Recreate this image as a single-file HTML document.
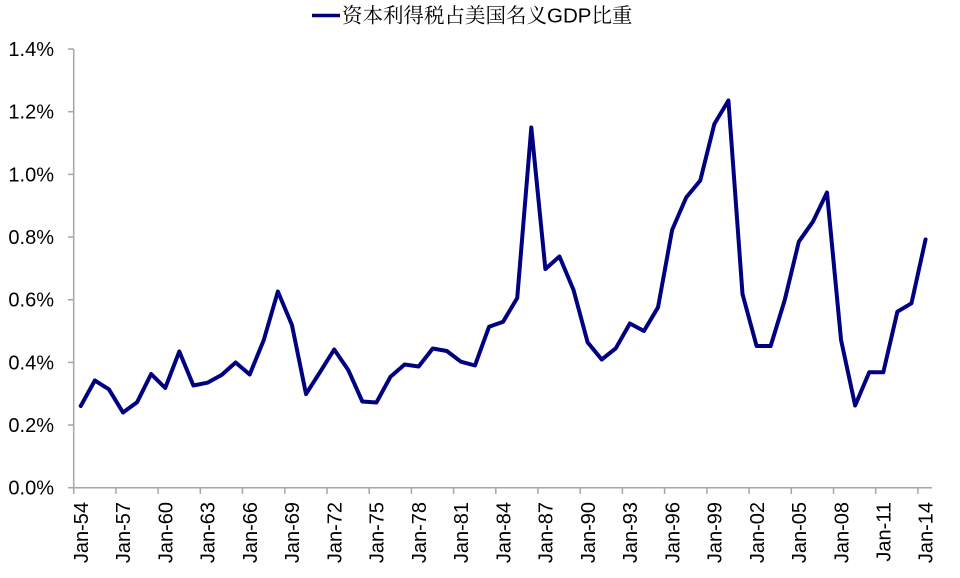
<!DOCTYPE html>
<html>
<head>
<meta charset="utf-8">
<style>
  html, body { margin:0; padding:0; background:#ffffff; }
  svg { display:block; }
  .yl { font-family:"Liberation Sans", Arial, sans-serif; font-size:20px; fill:#000; }
  .xl { font-family:"Liberation Sans", Arial, sans-serif; font-size:20px; fill:#000; }
  .lg { font-family:"Liberation Sans", "Noto Serif CJK SC", serif; font-size:20.5px; fill:#000; }
  .cj { font-family:"Noto Serif CJK SC", "Liberation Serif", serif; }
</style>
</head>
<body>
<svg width="960" height="578" viewBox="0 0 960 578" xmlns="http://www.w3.org/2000/svg">
  <rect width="960" height="578" fill="#ffffff"/>

  <!-- Legend -->
  <line x1="312" y1="15.5" x2="340" y2="15.5" stroke="#000080" stroke-width="3.5"/>
  <text class="lg" x="342" y="22.5"><tspan class="cj">资本利得税占美国名义</tspan>GDP<tspan class="cj">比重</tspan></text>

  <!-- Axes -->
  <g stroke="#a6a6a6" stroke-width="1.5" fill="none">
    <line x1="73.7" y1="49" x2="73.7" y2="488.5"/>
    <line x1="73" y1="487.7" x2="932" y2="487.7"/>
    <line x1="68" y1="487.7" x2="73.7" y2="487.7"/>
    <line x1="68" y1="425.0" x2="73.7" y2="425.0"/>
    <line x1="68" y1="362.4" x2="73.7" y2="362.4"/>
    <line x1="68" y1="299.7" x2="73.7" y2="299.7"/>
    <line x1="68" y1="237.0" x2="73.7" y2="237.0"/>
    <line x1="68" y1="174.4" x2="73.7" y2="174.4"/>
    <line x1="68" y1="111.7" x2="73.7" y2="111.7"/>
    <line x1="68" y1="49.0" x2="73.7" y2="49.0"/>
    <line x1="73.7" y1="487.7" x2="73.7" y2="494"/>
    <line x1="115.9" y1="487.7" x2="115.9" y2="494"/>
    <line x1="158.1" y1="487.7" x2="158.1" y2="494"/>
    <line x1="200.3" y1="487.7" x2="200.3" y2="494"/>
    <line x1="242.5" y1="487.7" x2="242.5" y2="494"/>
    <line x1="284.8" y1="487.7" x2="284.8" y2="494"/>
    <line x1="327.0" y1="487.7" x2="327.0" y2="494"/>
    <line x1="369.2" y1="487.7" x2="369.2" y2="494"/>
    <line x1="411.4" y1="487.7" x2="411.4" y2="494"/>
    <line x1="453.6" y1="487.7" x2="453.6" y2="494"/>
    <line x1="495.8" y1="487.7" x2="495.8" y2="494"/>
    <line x1="538.0" y1="487.7" x2="538.0" y2="494"/>
    <line x1="580.2" y1="487.7" x2="580.2" y2="494"/>
    <line x1="622.4" y1="487.7" x2="622.4" y2="494"/>
    <line x1="664.6" y1="487.7" x2="664.6" y2="494"/>
    <line x1="706.9" y1="487.7" x2="706.9" y2="494"/>
    <line x1="749.1" y1="487.7" x2="749.1" y2="494"/>
    <line x1="791.3" y1="487.7" x2="791.3" y2="494"/>
    <line x1="833.5" y1="487.7" x2="833.5" y2="494"/>
    <line x1="875.7" y1="487.7" x2="875.7" y2="494"/>
    <line x1="917.9" y1="487.7" x2="917.9" y2="494"/>
  </g>

  <!-- Y labels -->
  <g class="yl" text-anchor="end">
    <text x="54" y="494.7">0.0%</text>
    <text x="54" y="432.0">0.2%</text>
    <text x="54" y="369.4">0.4%</text>
    <text x="54" y="306.7">0.6%</text>
    <text x="54" y="244.0">0.8%</text>
    <text x="54" y="181.4">1.0%</text>
    <text x="54" y="118.7">1.2%</text>
    <text x="54" y="56.0">1.4%</text>
  </g>

  <!-- X labels -->
  <g class="xl" text-anchor="end">
    <text transform="translate(80.7,502) rotate(-90)" dy="0.36em">Jan-54</text>
    <text transform="translate(123.0,502) rotate(-90)" dy="0.36em">Jan-57</text>
    <text transform="translate(165.2,502) rotate(-90)" dy="0.36em">Jan-60</text>
    <text transform="translate(207.5,502) rotate(-90)" dy="0.36em">Jan-63</text>
    <text transform="translate(249.7,502) rotate(-90)" dy="0.36em">Jan-66</text>
    <text transform="translate(291.9,502) rotate(-90)" dy="0.36em">Jan-69</text>
    <text transform="translate(334.2,502) rotate(-90)" dy="0.36em">Jan-72</text>
    <text transform="translate(376.4,502) rotate(-90)" dy="0.36em">Jan-75</text>
    <text transform="translate(418.7,502) rotate(-90)" dy="0.36em">Jan-78</text>
    <text transform="translate(460.9,502) rotate(-90)" dy="0.36em">Jan-81</text>
    <text transform="translate(503.1,502) rotate(-90)" dy="0.36em">Jan-84</text>
    <text transform="translate(545.4,502) rotate(-90)" dy="0.36em">Jan-87</text>
    <text transform="translate(587.6,502) rotate(-90)" dy="0.36em">Jan-90</text>
    <text transform="translate(629.9,502) rotate(-90)" dy="0.36em">Jan-93</text>
    <text transform="translate(672.1,502) rotate(-90)" dy="0.36em">Jan-96</text>
    <text transform="translate(714.3,502) rotate(-90)" dy="0.36em">Jan-99</text>
    <text transform="translate(756.6,502) rotate(-90)" dy="0.36em">Jan-02</text>
    <text transform="translate(798.8,502) rotate(-90)" dy="0.36em">Jan-05</text>
    <text transform="translate(841.1,502) rotate(-90)" dy="0.36em">Jan-08</text>
    <text transform="translate(883.3,502) rotate(-90)" dy="0.36em">Jan-11</text>
    <text transform="translate(925.5,502) rotate(-90)" dy="0.36em">Jan-14</text>
  </g>

  <!-- Series -->
  <polyline fill="none" stroke="#000080" stroke-width="4" stroke-linejoin="round" stroke-linecap="round"
    points="80.74,406 94.82,380.5 108.90,389.3 122.98,412.5 137.06,402.3 151.14,374 165.22,388 179.30,351.5 193.38,385.5 207.46,382.7 221.54,375 235.62,362.5 249.70,374.5 263.78,340 277.86,291.5 291.94,325 306.02,394 320.10,372 334.18,349.5 348.26,370 362.34,401.5 376.42,402.5 390.50,376.7 404.58,364.5 418.66,366.5 432.74,348.5 446.82,351 460.90,361.7 474.98,365.5 489.06,326.7 503.14,321.7 517.22,298 531.30,127.5 545.38,269 559.46,256.5 573.54,290 587.62,342.3 601.70,359.5 615.78,348.3 629.86,323.5 643.94,331 658.02,307.3 672.10,230 686.18,197.5 700.26,180.5 714.34,124 728.42,100.5 742.50,294 756.58,346 770.66,346 784.74,300 798.82,241.7 812.90,221.7 826.98,192.5 841.06,340 855.14,405.5 869.22,372.3 883.30,372.3 897.38,311.7 911.46,303.3 925.54,239.5"/>
</svg>
</body>
</html>
